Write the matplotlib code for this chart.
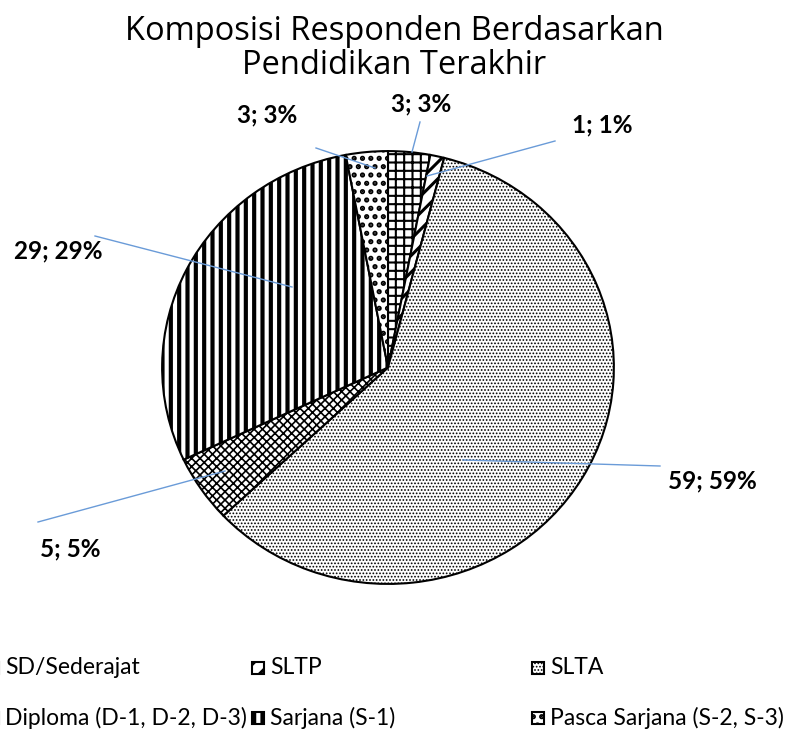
import matplotlib
matplotlib.use('Agg')
import matplotlib.pyplot as plt
from matplotlib.patches import Rectangle

categories = ['SD/Sederajat', 'SLTP', 'SLTA', 'Diploma (D-1, D-2, D-3)',
              'Sarjana (S-1)', 'Pasca Sarjana (S-2, S-3)']
values = [3, 1, 59, 5, 29, 3]
hatches = ['++', '//', '.....', 'xxxx', '||', '..']
hatch_lw = [1.5, 2.2, 0.8, 1.2, 3.0, 2.5]

# label placement (image pixels) and leader line ends
label_pos = [(421, 104), (602, 125), (712, 481), (70, 549), (58, 251), (267, 115)]
leader_start = [(420, 122), (555, 141), (660, 466), (38, 522), (95, 236), (316, 148)]
leader_end = [(412, 152), (427, 176), (463, 460), (225, 471), (292, 287), (375, 168)]

W, H = 803, 733
plt.rcParams['hatch.linewidth'] = 1.5
fig = plt.figure(figsize=(W / 100, H / 100), dpi=100)

# pie area in pixels (slightly wider than tall, like the original)
left, right, top, bottom = 161, 615, 150, 585
ax = fig.add_axes([left / W, (H - bottom) / H, (right - left) / W, (bottom - top) / H])
wedges, _ = ax.pie(values, startangle=90, counterclock=False,
                   wedgeprops=dict(facecolor='white', edgecolor='black', linewidth=1.5))
for w, h, lw in zip(wedges, hatches, hatch_lw):
    w.set_hatch(h)
    if hasattr(w, 'set_hatch_linewidth'):
        w.set_hatch_linewidth(lw)
ax.set_aspect('auto')
ax.set_xlim(-1.005, 1.005)
ax.set_ylim(-1.005, 1.005)

# overlay in image pixel coordinates
ov = fig.add_axes([0, 0, 1, 1])
ov.set_xlim(0, W)
ov.set_ylim(H, 0)
ov.axis('off')

ov.text(394, 32, 'Komposisi Responden Berdasarkan', ha='center', va='center',
        fontsize=23.5, family='Open Sans')
ov.text(394, 66, 'Pendidikan Terakhir', ha='center', va='center',
        fontsize=23.5, family='Open Sans')

total = sum(values)
for v, (tx, ty), s, e in zip(values, label_pos, leader_start, leader_end):
    ov.plot([s[0], e[0]], [s[1], e[1]], color='#6A9BD8', lw=1)
    ov.text(tx, ty, '%d; %d%%' % (v, round(100 * v / total)), ha='center', va='center',
            fontsize=17.5, fontweight='bold', family='Lato')

# legend (first column markers fall off the left edge)
col_x = [5, 270, 550]
row_y = [668, 718]
for i, (name, h, lw) in enumerate(zip(categories, hatches, hatch_lw)):
    r, c = divmod(i, 3)
    x, y = col_x[c], row_y[r]
    p = Rectangle((x - 18, y - 6), 12, 12, facecolor='white',
                  edgecolor='black', lw=1.5, hatch=h)
    if hasattr(p, 'set_hatch_linewidth'):
        p.set_hatch_linewidth(lw)
    ov.add_patch(p)
    ov.text(x, y, name, ha='left', va='center', fontsize=16.5, family='Lato')

fig.savefig('out.png', dpi=100)
